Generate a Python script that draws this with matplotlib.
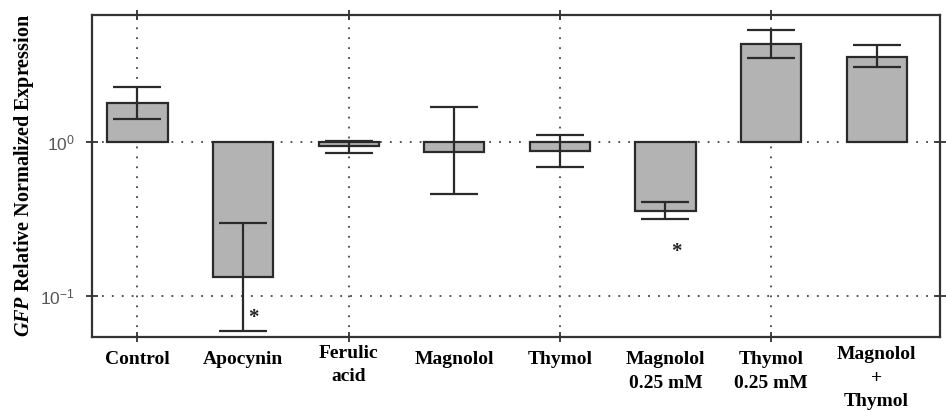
import numpy as np
import matplotlib
matplotlib.use("Agg")
import matplotlib.pyplot as plt
from matplotlib.transforms import blended_transform_factory

# data
categories = ["Control", "Apocynin", "Ferulic\nacid", "Magnolol", "Thymol",
              "Magnolol\n0.25 mM", "Thymol\n0.25 mM", "Magnolol\n+\nThymol"]
values = [1.77, 0.134, 0.94, 0.86, 0.875, 0.358, 4.30, 3.55]
err_low = [1.40, 0.0597, 0.845, 0.457, 0.689, 0.315, 3.49, 3.03]
err_high = [2.27, 0.296, 1.015, 1.67, 1.10, 0.409, 5.28, 4.22]
star_idx = [1, 5]
star_y = [0.072, 0.194]

# label vertical offsets (axes fraction)
label_y = [-0.045, -0.045, -0.025, -0.045, -0.045, -0.045, -0.045, -0.030]

plt.rcParams['mathtext.fontset'] = 'custom'
plt.rcParams['mathtext.it'] = 'Liberation Serif:bold:italic'
plt.rcParams['mathtext.rm'] = 'Liberation Sans'


def main():
    fig = plt.figure(figsize=(9.46, 4.12), dpi=100)
    ax = fig.add_axes([0.0973, 0.1828, 0.8964, 0.7815])

    x = np.arange(len(categories))
    vals = np.array(values)
    lo = vals - np.array(err_low)
    hi = np.array(err_high) - vals

    ax.set_yscale('log')
    ax.set_xlim(-0.43, 7.6)
    ax.set_ylim(0.0548, 6.63)

    # grid
    dot = (0, (1, 4.5))
    for v in [0.1, 1.0]:
        ax.axhline(v, color='#444444', lw=1.3, ls=dot, zorder=0)
    for xv in x[::2]:
        ax.axvline(xv, color='#444444', lw=1.3, ls=dot, zorder=0)

    ax.bar(x, vals - 1, bottom=1, width=0.57, color='#b3b3b3',
           edgecolor='#2a2a2a', linewidth=1.6, zorder=2)
    ax.errorbar(x, vals, yerr=[lo, hi], fmt='none', ecolor='#2a2a2a',
                elinewidth=1.6, capsize=17, capthick=1.6, zorder=3)

    for i, yv in zip(star_idx, star_y):
        ax.text(i + 0.1, yv, '*', ha='center', va='center', fontsize=15,
                fontweight='bold', family='Liberation Serif', color='#222222')

    # x ticks only at every second category
    ax.set_xticks(x[::2])
    ax.set_xticklabels([])
    ax.tick_params(axis='x', which='both', direction='inout', length=7,
                   width=1.3, top=True, color='#333333')
    ax.set_yticks([0.1, 1.0])
    ax.set_yticklabels([r'$\mathdefault{10^{-1}}$', r'$\mathdefault{10^{0}}$'])
    ax.yaxis.set_minor_locator(matplotlib.ticker.NullLocator())
    ax.tick_params(axis='y', which='major', direction='inout', length=9,
                   width=1.3, right=True, color='#333333', labelsize=12.5,
                   labelcolor='#555555', pad=8)
    for lab in ax.get_yticklabels():
        lab.set_family('Liberation Sans')

    trans = blended_transform_factory(ax.transData, ax.transAxes)
    for i, (cat, ly) in enumerate(zip(categories, label_y)):
        ax.text(i, ly, cat, transform=trans, ha='center', va='top',
                fontsize=14, fontweight='bold', family='Liberation Serif',
                linespacing=1.5)

    for s in ax.spines.values():
        s.set_linewidth(1.6)
        s.set_color('#333333')

    fig.text(0.025, 0.575, r'$\mathit{GFP}$ Relative Normalized Expression',
             rotation=90, ha='center', va='center', fontsize=14.5,
             fontweight='bold', family='Liberation Serif')

    fig.savefig('out.png', dpi=100)


if __name__ == "__main__":
    main()
